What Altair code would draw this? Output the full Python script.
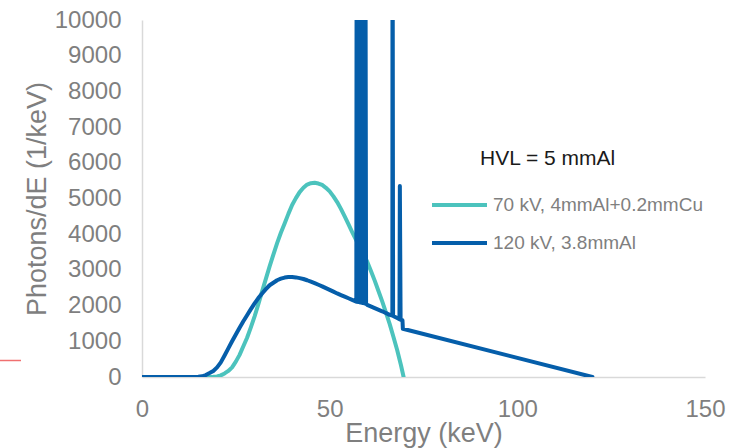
import altair as alt
import pandas as pd

# ---- data ----
series_names = ["70 kV, 4mmAl+0.2mmCu", "120 kV, 3.8mmAl"]
series_colors = ["#4CC3BD", "#055EAA"]
legend_title = "HVL = 5 mmAl"

energy_70 = [0, 18, 19, 20, 21, 22, 23, 24, 25, 26, 27, 28, 29, 30, 31, 32, 33,
             34, 35, 36, 37, 38, 39, 40, 41, 42, 43, 44, 45, 46, 47, 48, 49, 50,
             51, 52, 53, 54, 55, 56, 57, 58, 59, 60, 61, 62, 63, 64, 65, 66, 67,
             68, 69, 69.7]
photons_70 = [0, 0, 5, 15, 45, 100, 170, 270, 430, 620, 860, 1100, 1390, 1700,
              2040, 2400, 2750, 3100, 3430, 3750, 4040, 4300, 4570, 4820, 5010,
              5180, 5300, 5390, 5430, 5440, 5420, 5380, 5300, 5200, 5060, 4900,
              4710, 4500, 4280, 4060, 3850, 3650, 3440, 3230, 2970, 2700, 2410,
              2120, 1800, 1480, 1120, 750, 330, 0]

energy_120 = [0, 14, 15, 16, 17, 18, 19, 20, 21, 22, 23, 24, 25, 26, 27, 28, 29,
              30, 31, 32, 33, 34, 35, 36, 37, 38, 39, 40, 41, 42, 43, 44, 45, 46,
              47, 48, 49, 50, 51, 52, 53, 54, 55, 56,
              57.1, 57.2, 57.5, 57.8, 58.1, 58.4, 58.7, 59.0, 59.3, 59.5, 59.7,
              60, 62, 64, 66, 66.7, 66.75, 66.9, 68, 68.6, 68.7, 68.9, 69.4, 69.5,
              120]
photons_120 = [0, 0, 5, 20, 55, 110, 170, 270, 410, 600, 800, 1000, 1190, 1380,
               1560, 1730, 1900, 2060, 2210, 2340, 2460, 2570, 2640, 2710, 2755,
               2785, 2800, 2800, 2790, 2770, 2745, 2710, 2670, 2630, 2585, 2540,
               2490, 2440, 2390, 2340, 2295, 2250, 2205, 2160,
               2110, 15000, 2100, 15000, 2090, 15000, 2070, 15000, 2060, 15000, 2050,
               2020, 1930, 1840, 1740, 1720, 15000, 1710, 1650, 1615, 5350, 1605,
               1590, 1350, 0]

x_ticks = [0, 50, 100, 150]
y_ticks = list(range(0, 10001, 1000))

rows = []
for i, (e, p) in enumerate(zip(energy_70, photons_70)):
    rows.append({"series": series_names[0], "energy": e, "photons": p, "idx": i})
for i, (e, p) in enumerate(zip(energy_120, photons_120)):
    rows.append({"series": series_names[1], "energy": e, "photons": p, "idx": i})
df = pd.DataFrame(rows)

FONT = "Liberation Sans"
GRAY = "#7f7f7f"

lines = alt.Chart(df).mark_line(
    clip=True, strokeWidth=4, strokeJoin="round", strokeCap="round"
).encode(
    x=alt.X("energy:Q",
            scale=alt.Scale(domain=[0, 150], nice=False, zero=False),
            axis=alt.Axis(values=x_ticks, title="Energy (keV)", grid=False,
                          ticks=False, labelFlush=False, labelPadding=20,
                          labelFontSize=24, titleFontSize=27,
                          titleX=281.5, titleY=64, titleBaseline="alphabetic")),
    y=alt.Y("photons:Q",
            scale=alt.Scale(domain=[0, 10000], nice=False),
            axis=alt.Axis(values=y_ticks, format="d", title="Photons/dE (1/keV)",
                          grid=False, ticks=False, labelPadding=21,
                          labelFontSize=24, titleFontSize=27, titleX=-97,
                          titleY=178.5, titleBaseline="alphabetic",
                          titleAngle=270)),
    color=alt.Color("series:N",
                    scale=alt.Scale(domain=series_names, range=series_colors),
                    legend=alt.Legend(orient="none", legendX=288, legendY=167,
                                      title=None, symbolType="stroke",
                                      symbolSize=3025, symbolStrokeWidth=4,
                                      labelFontSize=19, labelColor=GRAY,
                                      labelFont=FONT, clipHeight=36,
                                      rowPadding=2, labelOffset=4, padding=0,
                                      labelLimit=0)),
    detail="series:N",
    order="idx:Q",
)

title_df = pd.DataFrame({"label": [legend_title]})
hvl = alt.Chart(title_df).mark_text(
    align="left", baseline="middle", fontSize=21, font=FONT, color="#1a1a1a"
).encode(x=alt.value(338), y=alt.value(139), text="label:N")

red_df = pd.DataFrame({"a": [0]})
red = alt.Chart(red_df).mark_rule(color="#f07070", strokeWidth=1.5, clip=False).encode(
    x=alt.value(-142), x2=alt.value(-121), y=alt.value(340.5)
)

chart = alt.layer(lines, hvl, red).properties(
    width=563, height=357,
    autosize=alt.AutoSizeParams(type="none"),
    padding={"left": 142, "top": 20, "right": 29, "bottom": 71},
).configure_view(strokeWidth=0).configure_axis(
    labelFont=FONT, titleFont=FONT, labelColor=GRAY, titleColor=GRAY,
    domainColor="#d9d9d9", domainWidth=1.5, titleFontWeight="normal",
    labelOverlap=False,
)

chart.save("out.html", embed_options={"renderer": "svg", "actions": False})
